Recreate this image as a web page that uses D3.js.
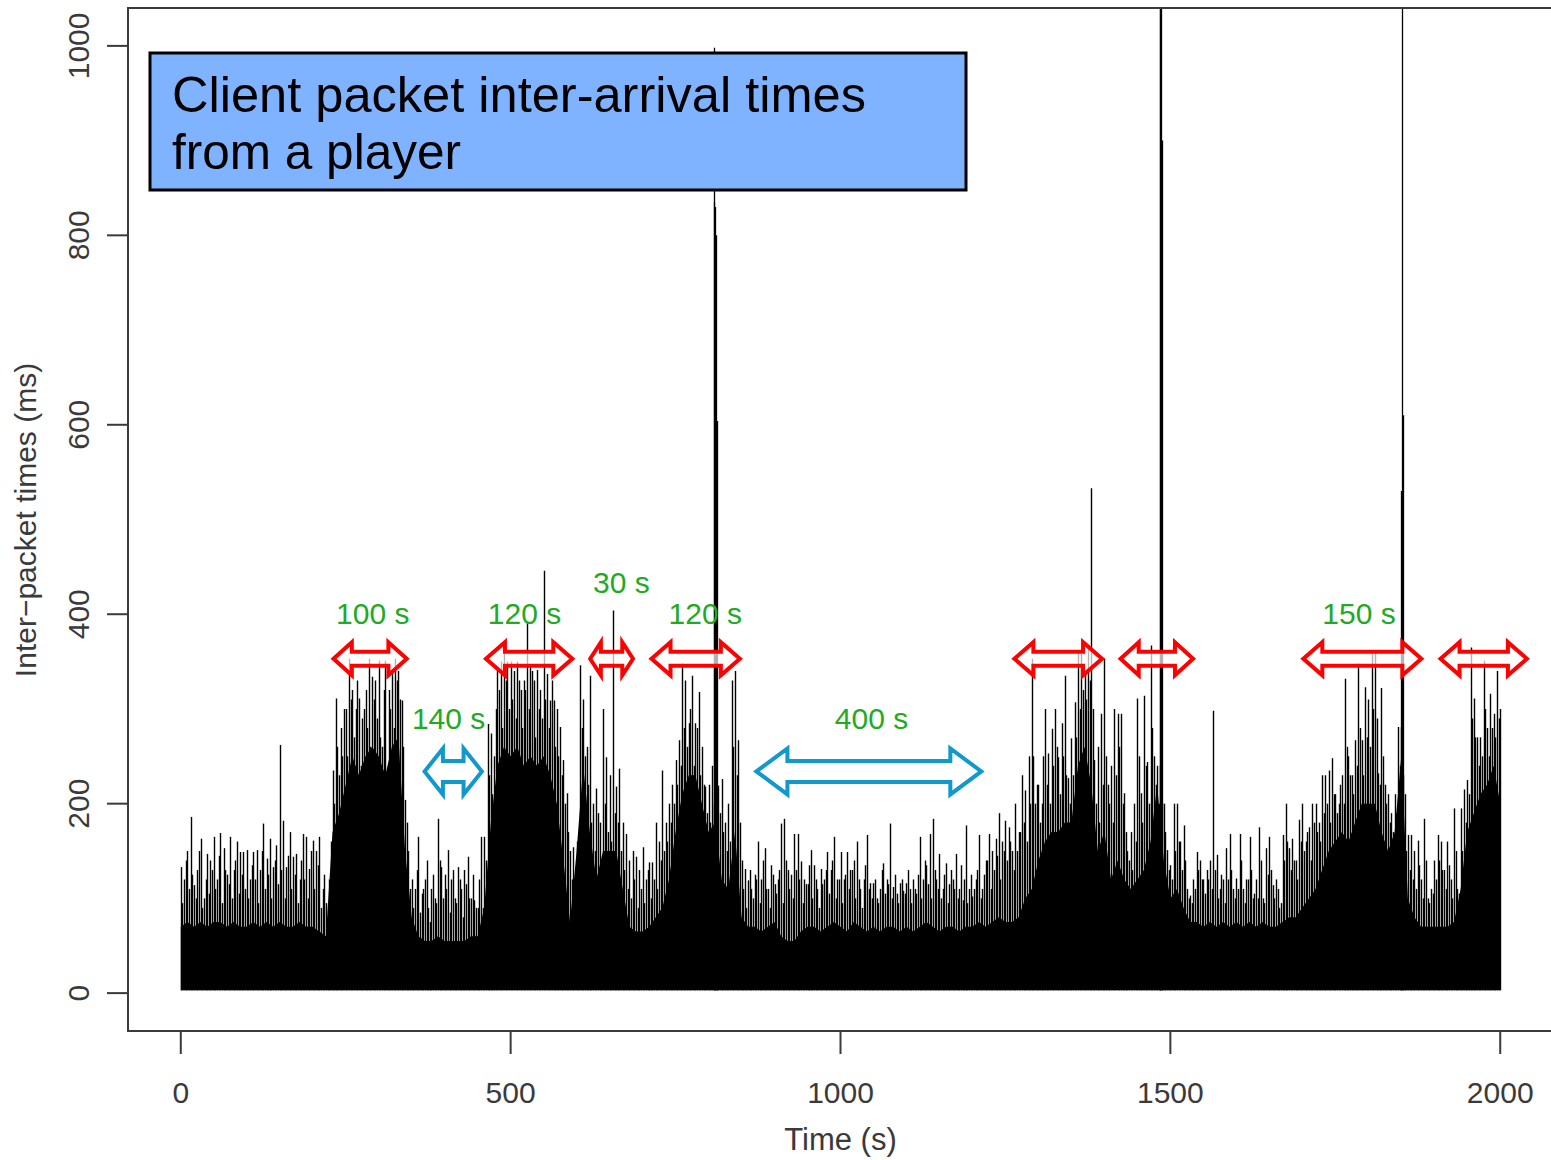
<!DOCTYPE html>
<html><head><meta charset="utf-8">
<script src="https://cdn.jsdelivr.net/npm/d3@7"></script>
<style>body{margin:0;background:#fff}</style>
</head><body>
<svg id="c" width="1551" height="1160"></svg>
<script>
// ---- data ----
const binStep = 5; // seconds between peak samples, starting at t = 0
const peakValues = [
133,120,150,186,114,130,163,100,147,140,
165,120,169,153,125,165,130,160,149,149,
151,120,149,151,130,179,142,163,133,156,
262,182,133,170,144,147,120,168,165,131,
161,150,165,110,95,120,235,311,230,250,
300,353,320,300,311,290,320,353,334,330,
351,260,351,320,340,353,340,309,204,150,
120,110,165,105,120,90,110,100,184,133,
125,151,120,100,133,110,130,144,100,98,
90,165,165,284,274,250,340,350,365,350,
350,340,350,320,330,392,345,330,341,320,
446,337,309,309,300,281,246,211,150,154,
160,346,310,260,335,200,216,180,300,249,
230,404,218,237,180,168,140,150,144,130,
154,120,138,138,180,160,235,180,200,220,
246,267,348,330,285,335,285,318,260,218,
220,240,240,219,226,180,200,330,340,267,
140,131,119,110,125,160,120,153,110,135,
115,120,179,184,130,125,168,168,139,120,
115,151,135,110,131,120,149,130,165,120,
149,120,149,130,140,160,110,120,167,116,
116,100,110,137,120,179,112,105,116,108,
116,110,120,105,165,120,135,168,184,120,
147,110,137,115,120,147,110,98,177,110,
102,120,167,110,140,168,150,163,190,160,
182,175,150,200,170,230,214,250,353,200,
220,200,300,253,279,300,249,285,335,227,
269,307,362,358,340,367,533,246,260,295,
353,220,240,300,295,295,211,150,170,200,
311,211,314,244,367,250,240,240,200,151,
135,200,200,160,177,110,103,120,149,140,
120,130,140,298,146,110,120,153,168,110,
121,168,110,120,165,100,120,175,100,153,
165,114,120,90,167,200,153,163,140,183,
200,160,175,200,200,180,230,230,235,248,
210,200,230,332,250,230,267,348,267,323,
310,360,360,232,322,220,210,190,210,281,
281,210,167,167,150,161,120,184,100,110,
140,167,160,130,160,120,195,110,195,215,
225,365,311,270,270,351,280,316,295,340,
300];
// secondary (in-between) packet lines, one every 5 s starting at t = 2.5 s
const midOffset = 2.5;
const midValues = [
95,140,110,125,100,150,90,120,105,130,
110,145,95,130,115,100,140,105,125,110,
100,135,120,95,150,110,125,100,140,115,
130,100,145,110,125,95,140,120,100,150,
110,135,90,125,80,160,200,260,280,300,
250,310,270,330,240,300,280,260,310,290,
270,320,230,300,280,330,310,260,180,110,
90,130,85,110,140,75,125,95,140,100,
110,85,130,95,120,80,115,100,125,90,
120,90,140,230,210,300,320,280,330,300,
310,290,330,280,320,300,340,270,300,290,
310,280,330,260,250,230,200,170,120,100,
140,280,250,220,180,150,190,140,200,170,
160,190,180,150,130,110,100,120,90,110,
95,130,100,120,110,140,150,160,180,200,
220,240,280,260,300,240,280,230,220,190,
180,200,200,190,170,150,160,260,230,180,
110,90,130,100,120,95,140,110,90,125,
105,130,95,140,110,100,130,120,95,115,
135,100,120,90,115,130,105,140,100,120,
95,125,110,130,100,120,90,135,110,100,
120,95,130,105,115,100,125,95,120,105,
130,95,110,125,100,140,115,100,130,110,
100,125,95,130,110,100,135,120,95,125,
110,130,100,125,140,110,130,145,120,150,
140,160,130,150,170,180,160,200,250,220,
180,250,220,200,240,260,210,250,230,200,
230,270,300,320,310,330,300,200,180,220,
250,200,180,230,260,200,170,140,130,160,
250,180,240,200,280,220,200,200,170,130,
120,150,160,130,140,100,95,110,130,120,
105,120,110,130,100,125,95,120,130,100,
110,140,95,120,130,105,100,140,95,125,
130,100,110,95,140,160,130,140,120,160,
150,170,140,180,170,160,190,200,180,210,
190,220,200,260,230,210,240,280,230,270,
260,300,290,220,250,200,180,170,190,240,
230,150,130,120,110,135,100,140,95,105,
120,140,130,110,135,100,150,105,150,180,
210,290,270,240,250,300,250,280,270,290];
const coreStep = 10; // seconds between samples of the solid dense band
const coreValues = [
70,75,70,75,70,75,75,70,75,70,
70,75,70,75,70,75,70,70,75,70,
70,65,60,170,190,220,250,230,250,260,
250,230,260,270,150,80,60,55,55,60,
55,55,55,55,60,60,90,180,240,260,
250,260,240,250,240,250,230,200,140,75,
150,240,170,120,150,150,150,110,70,65,
65,70,80,90,120,170,210,230,230,200,
170,180,120,110,170,80,70,70,65,70,
75,60,55,55,65,70,70,65,70,75,
70,65,75,70,65,70,65,70,70,65,
70,65,70,75,70,65,70,70,65,70,
70,75,70,75,80,75,75,80,100,110,
140,160,170,170,180,180,240,260,220,150,
170,120,140,120,110,120,130,160,220,140,
100,110,90,75,75,70,75,70,75,70,
75,70,75,70,75,70,70,75,80,80,
90,100,110,130,150,160,170,160,180,200,
200,200,170,150,170,250,100,80,70,70,
70,70,70,75,110,170,190,210,220,240,
200];
const baseValue = 3;
const spikeTimes  = [808, 809, 810, 811, 813, 1484, 1485, 1486, 1487, 1850, 1851, 1852];
const spikeValues = [998, 835, 830, 800, 604, 1060, 1060, 1060, 900, 530, 1060, 610];

const xTicks = [0, 500, 1000, 1500, 2000];
const yTicks = [0, 200, 400, 600, 800, 1000];
const xTitle = "Time (s)";
const yTitle = "Inter\u2212packet times (ms)";
const boxLines = ["Client packet inter-arrival times", "from a player"];

const redArrowFrom = [227, 458, 616, 709, 1259, 1420, 1697, 1905];
const redArrowTo   = [347, 598, 690, 852, 1401, 1539, 1885, 2045];
const redArrowAt = 353;
const blueArrowFrom = [365, 868];
const blueArrowTo   = [461, 1218];
const blueArrowAt = 234;
const labelTexts  = ["100 s", "120 s", "30 s", "120 s", "140 s", "400 s", "150 s"];
const labelTimes  = [291, 521, 668, 795, 406, 1047, 1786];
const labelValues = [390, 390, 422, 390, 279, 279, 390];

// ---- drawing ----
const svg = d3.select("#c");
const x = d3.scaleLinear().domain([-80, 2080]).range([128, 1553]);
const y = d3.scaleLinear().domain([-40, 1040]).range([1031, 8]);

svg.append("clipPath").attr("id","plot").append("rect")
  .attr("x",128).attr("y",8).attr("width",1425).attr("height",1023);
const g = svg.append("g").attr("clip-path","url(#plot)");

const core = coreValues.map((v,i)=>({t:i*coreStep, v}));
g.append("path").datum(core)
  .attr("d", d3.area().x(d=>x(d.t)).y0(y(baseValue)).y1(d=>y(d.v)))
  .attr("fill","#000");

function drawLines(data, cls, w){
  g.selectAll("line."+cls).data(data).join("line").attr("class",cls)
    .attr("x1",d=>Math.round(x(d.t))+0.5).attr("x2",d=>Math.round(x(d.t))+0.5)
    .attr("y1",y(baseValue)).attr("y2",d=>y(d.v))
    .attr("stroke","#000").attr("stroke-width",w);
}
drawLines(midValues.map((v,i)=>({t:midOffset+i*binStep, v})).filter(d=>d.t<=2000), "md", 1.4);
drawLines(peakValues.map((v,i)=>({t:i*binStep, v})), "pk", 1.4);
drawLines(spikeTimes.map((t,i)=>({t, v:spikeValues[i]})), "sp", 1.3);

// box
svg.append("rect").attr("x",128).attr("y",8).attr("width",1425).attr("height",1023)
  .attr("fill","none").attr("stroke","#3a3a3a").attr("stroke-width",2);

const axisFont = "'Liberation Sans', Arial, sans-serif";
yTicks.forEach(v=>{
  svg.append("line").attr("x1",107).attr("x2",128).attr("y1",y(v)).attr("y2",y(v))
    .attr("stroke","#3a3a3a").attr("stroke-width",2);
  svg.append("text").attr("transform",`translate(89,${y(v)}) rotate(-90)`)
    .attr("text-anchor","middle").attr("font-family",axisFont).attr("font-size",30)
    .attr("fill","#3a3a3a").text(v);
});
xTicks.forEach(t=>{
  svg.append("line").attr("x1",x(t)).attr("x2",x(t)).attr("y1",1031).attr("y2",1054)
    .attr("stroke","#3a3a3a").attr("stroke-width",2);
  svg.append("text").attr("x",x(t)).attr("y",1103)
    .attr("text-anchor","middle").attr("font-family",axisFont).attr("font-size",30)
    .attr("fill","#3a3a3a").text(t);
});
svg.append("text").attr("x",x(1000)).attr("y",1150).attr("text-anchor","middle")
  .attr("font-family",axisFont).attr("font-size",31).attr("fill","#3a3a3a").text(xTitle);
svg.append("text").attr("transform","translate(36,520) rotate(-90)").attr("text-anchor","middle")
  .attr("font-family",axisFont).attr("font-size",30).attr("fill","#3a3a3a").text(yTitle);

// annotation box
svg.append("rect").attr("x",150).attr("y",53).attr("width",816).attr("height",137)
  .attr("fill","#7fb2ff").attr("stroke","#000").attr("stroke-width",3);
svg.append("text").attr("x",172).attr("y",112).attr("font-family","'Liberation Sans', Arial, sans-serif")
  .attr("font-size",50).attr("fill","#000").attr("textLength",694).attr("lengthAdjust","spacingAndGlyphs")
  .text(boxLines[0]);
svg.append("text").attr("x",172).attr("y",169).attr("font-family","'Liberation Sans', Arial, sans-serif")
  .attr("font-size",50).attr("fill","#000").attr("textLength",289).attr("lengthAdjust","spacingAndGlyphs")
  .text(boxLines[1]);

// arrows
function arrowPath(x1,x2,yc,hl,hh,sh){
  return `M${x1},${yc} L${x1+hl},${yc-hh} L${x1+hl},${yc-sh} L${x2-hl},${yc-sh} L${x2-hl},${yc-hh} L${x2},${yc} L${x2-hl},${yc+hh} L${x2-hl},${yc+sh} L${x1+hl},${yc+sh} L${x1+hl},${yc+hh} Z`;
}
redArrowFrom.forEach((t0,i)=>{
  const x1 = x(t0)+3, x2 = x(redArrowTo[i])-3, w = x2-x1;
  svg.append("path").attr("d", arrowPath(x1,x2,y(redArrowAt),Math.min(19,w*0.25),16.5,7))
    .attr("fill","rgba(255,255,255,0.7)").attr("stroke","#ff0000").attr("stroke-width",4)
    .attr("stroke-linejoin","miter");
});
blueArrowFrom.forEach((t0,i)=>{
  const x1 = x(t0)+3, x2 = x(blueArrowTo[i])-3, w = x2-x1;
  svg.append("path").attr("d", arrowPath(x1,x2,y(blueArrowAt),Math.min(31,w*0.32),23,10.5))
    .attr("fill","rgba(255,255,255,0.7)").attr("stroke","#1199cc").attr("stroke-width",4)
    .attr("stroke-linejoin","miter");
});
labelTexts.forEach((s,i)=>{
  svg.append("text").attr("x",x(labelTimes[i])).attr("y",y(labelValues[i]))
    .attr("text-anchor","middle").attr("font-family","'Liberation Sans', Arial, sans-serif")
    .attr("font-size",30).attr("fill","#22aa22").text(s);
});
</script>
</body></html>
